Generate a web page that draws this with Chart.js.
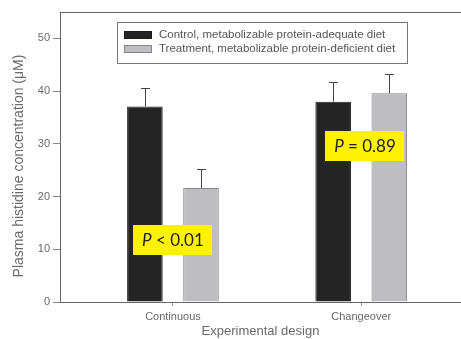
<!DOCTYPE html>
<html>
<head>
<meta charset="utf-8">
<script src="https://cdn.jsdelivr.net/npm/chart.js@4/dist/chart.umd.min.js"></script>
<style>
  html, body { margin: 0; padding: 0; background: #fff; }
  #wrap { width: 461px; height: 339px; position: relative; }
</style>
</head>
<body>
<div id="wrap"><canvas id="c" width="461" height="339"></canvas></div>
<script>
// Experimental designs on the x axis
const categories = ['Continuous', 'Changeover'];
// Plasma histidine (µM), means and standard errors
const controlMeans = [37.1, 38.0];
const controlSE = [3.4, 3.7];
const treatmentMeans = [21.6, 39.6];
const treatmentSE = [3.6, 3.6];
// Series names
const seriesNames = ['Control, metabolizable protein-adequate diet',
                     'Treatment, metabolizable protein-deficient diet'];
// Significance notes: text, design position, concentration level
const noteTexts = ['< 0.01', '= 0.89'];
const noteX = [1.0, 2.02];
const noteY = [11.8, 29.6];

const positions = categories.map((_, i) => i + 1);
const errors = [controlSE, treatmentSE];
const yTitle = 'Plasma histidine concentration (μM)';

const axisGray = '#666';
const textGray = '#6a6a6a';
const sans = '"Liberation Sans", Arial, sans-serif';

// Upward-only error bars with caps
const errorBarPlugin = {
  id: 'errorBars',
  afterDatasetsDraw(chart) {
    const ctx = chart.ctx;
    const y = chart.scales.y;
    ctx.save();
    ctx.strokeStyle = '#444';
    ctx.lineWidth = 1;
    chart.data.datasets.forEach((ds, di) => {
      const meta = chart.getDatasetMeta(di);
      meta.data.forEach((bar, i) => {
        const v = ds.data[i].y;
        const top = Math.round(y.getPixelForValue(v + errors[di][i]));
        const x = Math.round(bar.x) + 0.5;
        ctx.beginPath();
        ctx.moveTo(x, bar.y);
        ctx.lineTo(x, top);
        ctx.moveTo(x - 4.5, top + 0.5);
        ctx.lineTo(x + 4.5, top + 0.5);
        ctx.stroke();
      });
    });
    ctx.restore();
  }
};

// Frame top edge, y-axis title and the boxed legend inside the plot
const framePlugin = {
  id: 'frameLegend',
  afterDraw(chart) {
    const ctx = chart.ctx;
    const a = chart.chartArea;
    ctx.save();
    ctx.strokeStyle = axisGray;
    ctx.lineWidth = 1;
    ctx.beginPath();
    ctx.moveTo(a.left, Math.round(a.top) + 0.5);
    ctx.lineTo(a.right, Math.round(a.top) + 0.5);
    ctx.stroke();

    // y-axis title, rotated
    ctx.save();
    ctx.translate(19, 166);
    ctx.rotate(-Math.PI / 2);
    ctx.font = '14px ' + sans;
    ctx.fillStyle = textGray;
    ctx.textAlign = 'center';
    ctx.textBaseline = 'middle';
    ctx.fillText(yTitle, 0, 0);
    ctx.restore();

    // legend box
    const bx = 117, by = 22, bw = 290, bh = 41;
    ctx.strokeStyle = '#777';
    ctx.strokeRect(bx + 0.5, by + 0.5, bw, bh);
    ctx.font = '11.5px ' + sans;
    ctx.textBaseline = 'middle';
    chart.data.datasets.forEach((ds, i) => {
      const cy = by + 13 + i * 14;
      ctx.fillStyle = ds.backgroundColor;
      ctx.fillRect(124, cy - 4, 28, 8);
      ctx.strokeStyle = ds.borderColor;
      ctx.strokeRect(124.5, cy - 3.5, 27, 7);
      ctx.fillStyle = '#555';
      ctx.fillText(ds.label, 159, cy);
    });
    ctx.restore();
  }
};

// Yellow significance labels
const notePlugin = {
  id: 'notes',
  afterDraw(chart) {
    const ctx = chart.ctx;
    const xs = chart.scales.x, ys = chart.scales.y;
    ctx.save();
    noteTexts.forEach((t, i) => {
      const cx = xs.getPixelForValue(noteX[i]);
      const cy = ys.getPixelForValue(noteY[i]);
      const w = 79, h = 30;
      ctx.fillStyle = '#fff200';
      ctx.fillRect(Math.round(cx - w / 2), Math.round(cy - h / 2), w, h);
      ctx.fillStyle = '#222';
      ctx.textBaseline = 'middle';
      ctx.font = 'italic 17px Lato, "Open Sans", sans-serif';
      const pW = ctx.measureText('P').width;
      ctx.font = '17px Lato, "Open Sans", sans-serif';
      const rest = ' ' + t;
      const rW = ctx.measureText(rest).width;
      const x0 = cx - (pW + rW) / 2;
      ctx.font = 'italic 17px Lato, "Open Sans", sans-serif';
      ctx.fillText('P', x0, cy + 1);
      ctx.font = '17px Lato, "Open Sans", sans-serif';
      ctx.fillText(rest, x0 + pW, cy + 1);
    });
    ctx.restore();
  }
};

new Chart(document.getElementById('c'), {
  type: 'bar',
  data: {
    datasets: [
      {
        label: seriesNames[0],
        data: positions.map((p, i) => ({ x: p, y: controlMeans[i] })),
        backgroundColor: '#242424',
        borderColor: '#1a1a1a',
        borderWidth: 1
      },
      {
        label: seriesNames[1],
        data: positions.map((p, i) => ({ x: p, y: treatmentMeans[i] })),
        backgroundColor: '#bebec2',
        borderColor: '#858585',
        borderWidth: 1
      }
    ]
  },
  options: {
    responsive: false,
    animation: false,
    devicePixelRatio: 1,
    categoryPercentage: 0.596,
    barPercentage: 0.634,
    layout: { padding: { top: 12, right: 0, left: 0, bottom: 0 } },
    plugins: { legend: { display: false }, tooltip: { enabled: false } },
    scales: {
      x: {
        type: 'linear',
        offset: false,
        min: 0.40,
        max: 2.53,
        afterBuildTicks: (s) => { s.ticks = positions.map(v => ({ value: v })); },
        afterFit: (s) => { s.height = 37; },
        ticks: {
          autoSkip: false,
          maxRotation: 0,
          padding: 4,
          color: textGray,
          font: { family: sans, size: 11 },
          callback: (v) => categories[Math.round(v) - 1] || ''
        },
        grid: { offset: false, drawOnChartArea: false, drawTicks: true, tickLength: 4, color: '#999' },
        border: { display: true, color: axisGray, width: 1 },
        title: {
          display: true,
          text: 'Experimental design',
          color: textGray,
          font: { family: sans, size: 13 },
          padding: { top: 0, bottom: 0 }
        }
      },
      y: {
        min: 0,
        max: 55,
        afterFit: (s) => { s.width = 60; },
        ticks: {
          stepSize: 10,
          includeBounds: false,
          padding: 3,
          color: textGray,
          font: { family: sans, size: 11 }
        },
        grid: { drawOnChartArea: false, drawTicks: true, tickLength: 7, color: '#888' },
        border: { display: true, color: axisGray, width: 1 },
        title: { display: false }
      }
    }
  },
  plugins: [errorBarPlugin, framePlugin, notePlugin]
});
</script>
</body>
</html>
